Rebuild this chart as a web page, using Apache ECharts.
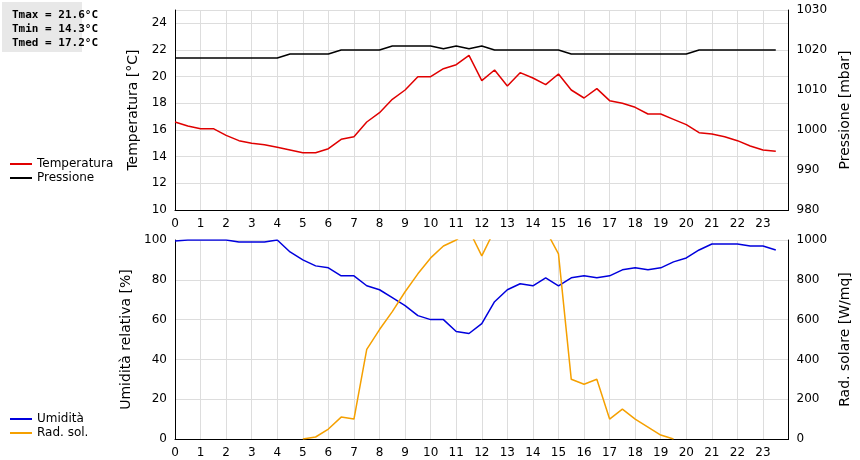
<!DOCTYPE html><html><head><meta charset="utf-8">
<script src="https://cdn.jsdelivr.net/npm/echarts@6/dist/echarts.min.js"></script>
<style>html,body{margin:0;background:#fff}#c{width:860px;height:460px}</style></head><body><div id="c"></div>
<script>
const hours=[0,0.5,1,1.5,2,2.5,3,3.5,4,4.5,5,5.5,6,6.5,7,7.5,8,8.5,9,9.5,10,10.5,11,11.5,12,12.5,13,13.5,14,14.5,15,15.5,16,16.5,17,17.5,18,18.5,19,19.5,20,20.5,21,21.5,22,22.5,23,23.5];
const temperatura=[16.6,16.3,16.1,16.1,15.6,15.2,15.0,14.9,14.7,14.5,14.3,14.3,14.6,15.3,15.5,16.6,17.3,18.3,19.0,20.0,20.0,20.6,20.9,21.6,19.7,20.5,19.3,20.3,19.9,19.4,20.2,19.0,18.4,19.1,18.2,18.0,17.7,17.2,17.2,16.8,16.4,15.8,15.7,15.5,15.2,14.8,14.5,14.4];
const pressione=[1018,1018,1018,1018,1018,1018,1018,1018,1018,1019,1019,1019,1019,1020,1020,1020,1020,1021,1021,1021,1021,1020.3,1021,1020.3,1021,1020,1020,1020,1020,1020,1020,1019,1019,1019,1019,1019,1019,1019,1019,1019,1019,1020,1020,1020,1020,1020,1020,1020];
const umidita=[99.5,100,100,100,100,99,99,99,100,94,90,87,86,82,82,77,75,71,67,62,60,60,54,53,58,69,75,78,77,81,77,81,82,81,82,85,86,85,86,89,91,95,98,98,98,97,97,95];
const radsol=[null,null,null,null,null,null,null,null,null,null,0,10,50,110,100,450,550,640,740,830,910,970,1000,1050,920,1050,1060,1080,1070,1050,930,300,275,300,100,150,100,60,20,0,null,null,null,null,null,null,null,null];
const statsText=['Tmax = 21.6°C','Tmin = 14.3°C','Tmed = 17.2°C'];
const pair=(a)=>hours.map((h,i)=>[h,a[i]]);
const gl={show:true,lineStyle:{color:'#ddd'}};
const xa=(gi)=>({type:'value',gridIndex:gi,min:0,max:24,interval:1,axisLine:{lineStyle:{color:'#000'}},axisTick:{show:false},splitLine:gl,
 axisLabel:{color:'#000',fontSize:12,formatter:v=>v<24?String(v):''}});
const ya=(gi,min,max,iv,name,pos,top)=>({type:'value',gridIndex:gi,min,max,interval:iv,position:pos,name,nameLocation:'middle',nameGap:pos=='left'?30:40,
 nameTextStyle:{color:'#000',fontSize:14},axisLine:{show:true,lineStyle:{color:'#000'}},axisTick:{show:false},
 splitLine:pos=='left'?gl:{show:false},axisLabel:{color:'#000',fontSize:12,formatter:v=>v>top?'':String(v)}});
const ch=echarts.init(document.getElementById('c'));
ch.setOption({animation:false,textStyle:{fontFamily:'DejaVu Sans'},
 grid:[{left:175,right:60,top:10,height:200},{left:175,right:60,top:240,height:199}],
 xAxis:[xa(0),xa(1)],
 yAxis:[ya(0,10,25,2,'Temperatura [°C]','left',24),
  {...ya(0,980,1030,10,'Pressione [mbar]','right',1030)},
  ya(1,0,100,20,'Umidità relativa [%]','left',100),ya(1,0,1000,200,'Rad. solare [W/mq]','right',1000)],
 legend:[{left:5,top:153,orient:'vertical',itemGap:2,itemWidth:22,icon:'rect',itemHeight:2,textStyle:{fontSize:12,color:'#000'},data:['Temperatura','Pressione']},
  {left:5,top:408,orient:'vertical',itemGap:2,itemWidth:22,icon:'rect',itemHeight:2,textStyle:{fontSize:12,color:'#000'},data:['Umidità','Rad. sol.']}],
 graphic:[{type:'rect',left:2,top:2,shape:{width:80,height:50},style:{fill:'#e8e8e8'}},
  {type:'text',left:12,top:8,style:{text:statsText.join('\n'),font:'bold 11px "DejaVu Sans Mono"',lineHeight:14,fill:'#000'}}],
 series:[
  {name:'Temperatura',type:'line',xAxisIndex:0,yAxisIndex:0,data:pair(temperatura),symbol:'none',color:'#e00000',lineStyle:{width:1.5}},
  {name:'Pressione',type:'line',xAxisIndex:0,yAxisIndex:1,data:pair(pressione),symbol:'none',color:'#000',lineStyle:{width:1.5}},
  {name:'Umidità',type:'line',xAxisIndex:1,yAxisIndex:2,data:pair(umidita),symbol:'none',color:'#0000dd',lineStyle:{width:1.5}},
  {name:'Rad. sol.',type:'line',xAxisIndex:1,yAxisIndex:3,data:pair(radsol),symbol:'none',color:'#f5a000',clip:true,lineStyle:{width:1.5}}
 ]});
</script></body></html>
